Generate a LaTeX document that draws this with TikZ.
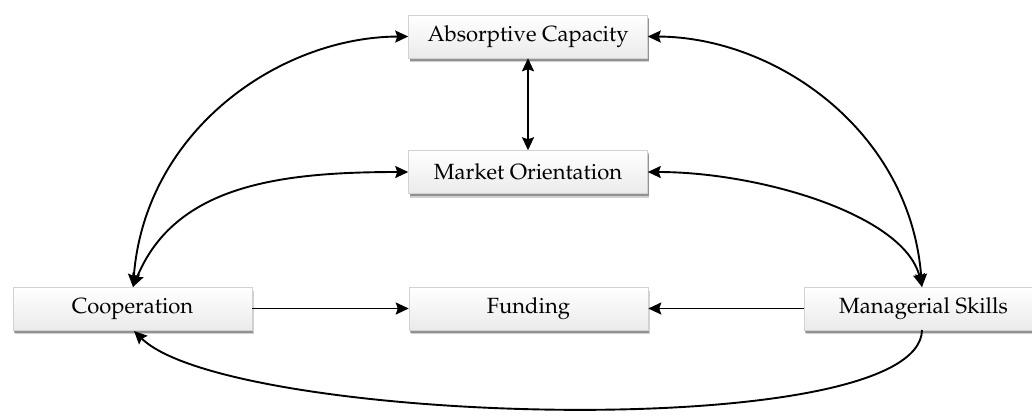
\documentclass[tikz,border=0pt]{standalone}
\usepackage[T1]{fontenc}
\renewcommand{\rmdefault}{ppl}
\usetikzlibrary{arrows.meta,shadows}
\begin{document}
\begin{tikzpicture}[x=1pt,y=-1pt,
  box/.style={draw=gray!35, line width=0.5pt, top color=white, bottom color=gray!16,
    minimum width=239pt, minimum height=43pt, inner sep=0pt,
    font=\fontsize{22}{26}\selectfont,
    drop shadow={shadow xshift=1.5pt, shadow yshift=-4pt, fill=black, opacity=0.18},
    drop shadow={shadow xshift=1pt, shadow yshift=-2.5pt, fill=black, opacity=0.3}},
  tip/.style={Stealth[length=13pt,width=12pt,inset=2pt]},
  link/.style={line width=1.9pt, {Stealth[length=13pt,width=12pt,inset=2pt]}-{Stealth[length=13pt,width=12pt,inset=2pt]}},
  onearrow/.style={line width=1.9pt, -{Stealth[length=13pt,width=12pt,inset=2pt]}}]
\useasboundingbox (0,0) rectangle (1032,416);
\fill[white] (0,0) rectangle (1032,416);
\node[box] (abs) at (528,36.5) {Absorptive Capacity};
\node[box] (mkt) at (528,172) {Market Orientation};
\node[box] (coop) at (132.5,308.5) {Cooperation};
\node[box] (fund) at (528.5,308.5) {Funding};
\node[box] (mgr) at (923.5,308.5) {Managerial Skills};
\coordinate (ct) at (133,287);
\coordinate (mt) at (922,287);
\coordinate (cb) at (134,331);
\coordinate (mb) at (922,330);
\draw[link] (abs.south) -- (mkt.north);
\draw[onearrow] (coop.east) -- (fund.west);
\draw[onearrow] (mgr.west) -- (fund.east);
\draw[link] (ct) .. controls (145,130) and (280,37) .. (abs.west);
\draw[link] (ct) .. controls (175,185) and (280,172) .. (mkt.west);
\draw[link] (mt) .. controls (910,130) and (775,37) .. (abs.east);
\draw[link] (mt) .. controls (905,215) and (760,172) .. (mkt.east);
\draw[onearrow] (mb) .. controls (920,445) and (230,425) .. (cb);
\end{tikzpicture}
\end{document}
